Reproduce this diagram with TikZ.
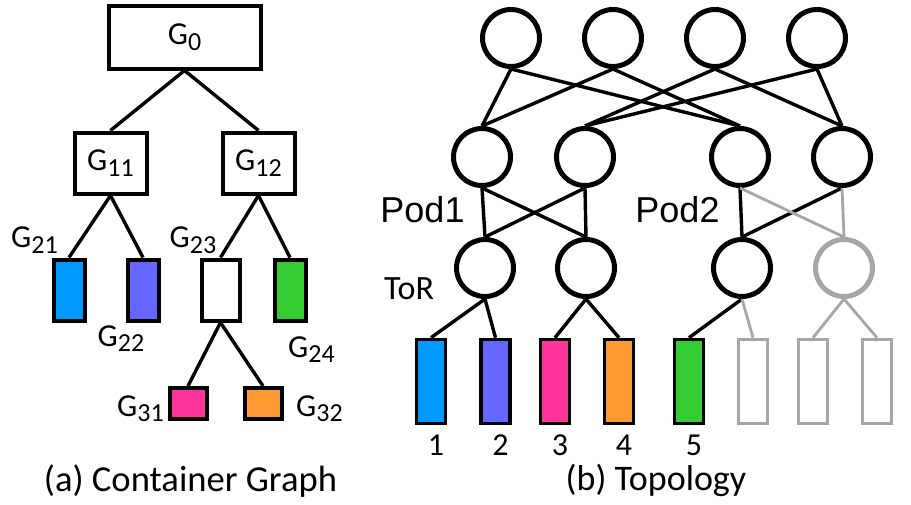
\documentclass[tikz,border=0pt]{standalone}
\usepackage{fontspec}
\setmainfont{Carlito}
\newfontfamily\podfont{Liberation Sans}
\definecolor{cblue}{HTML}{0099FF}
\definecolor{cviolet}{HTML}{6666FF}
\definecolor{cgreen}{HTML}{33CC33}
\definecolor{cpink}{HTML}{FF3399}
\definecolor{corange}{HTML}{FF9933}
\definecolor{offgray}{HTML}{A6A6A6}
\newcommand{\gname}[1]{G\raisebox{-2.8pt}{\fontsize{13}{13}\selectfont#1}}

\begin{document}
\begin{tikzpicture}[x=0.5pt,y=-0.5pt,
    box/.style={draw,line width=2pt,inner sep=0pt},
    grp/.style={box,minimum width=36pt,minimum height=30.5pt,font=\fontsize{16}{16}\selectfont},
    cont/.style={box,minimum width=15.5pt,minimum height=30.5pt},
    sw/.style={circle,draw,line width=2.5pt,minimum size=28.5pt,inner sep=0pt},
    host/.style={box,line width=1.8pt,minimum width=14.5pt,minimum height=42pt},
    num/.style={font=\fontsize{16}{16}\selectfont,inner sep=0pt,label distance=4.5pt,xshift=2.5pt},
    tag/.style={font=\fontsize{16}{16}\selectfont,inner sep=0pt},
    link/.style={line width=1.7pt},
    off/.style={draw=offgray},
    offlink/.style={line width=1.4pt,offgray}
    ]
    \useasboundingbox (0,0) rectangle (911,504);

    % (a) container graph
    \node[grp,minimum width=76pt,minimum height=31.5pt](g0) at (184.5,37){\gname{0}};
    \node[grp](g11) at (110.5,163){\gname{11}};
    \node[grp](g12) at (258.5,163){\gname{12}};
    \node[cont,fill=cblue](g21) at (69,290){};
    \node[cont,fill=cviolet](g22) at (143,290){};
    \node[cont,minimum width=19pt](g23) at (220.5,290){};
    \node[cont,fill=cgreen](g24) at (290,290){};
    \node[cont,fill=cpink,minimum width=18.5pt,minimum height=15.5pt](g31) at (188,403.5){};
    \node[cont,fill=corange,minimum width=18.5pt,minimum height=15.5pt](g32) at (263,403.5){};
    \node[tag](l21) at (34.5,240){\gname{21}};
    \node[tag](l22) at (121,338.5){\gname{22}};
    \node[tag](l23) at (193,240){\gname{23}};
    \node[tag](l24) at (311.5,349.5){\gname{24}};
    \node[tag](l31) at (140.5,408.5){\gname{31}};
    \node[tag](l32) at (319.5,408.5){\gname{32}};
    \path[link] (g0.south) edge (g11.north)
    (g0.south) edge (g12.north)
    (g11.south) edge (g21.north)
    (g11.south) edge (g22.north)
    (g12.south) edge (g23.north)
    (g12.south) edge (g24.north)
    (g23.south) edge (g31.north)
    (g23.south) edge (g32.north);
    \node[font=\fontsize{18.3}{18.3}\selectfont](capa) at (190.5,481){(a) Container Graph};

    % (b) topology
    \node[sw](c1) at (511,38){};
    \node[sw](c2) at (613,38){};
    \node[sw](c3) at (715,38){};
    \node[sw](c4) at (817,38){};
    \node[sw](a1) at (482,157){};
    \node[sw](a2) at (585,157){};
    \node[sw](a3) at (740,157){};
    \node[sw](a4) at (842,157){};
    \node[sw](t1) at (485,268){};
    \node[sw](t2) at (586,268){};
    \node[sw](t3) at (742,268){};
    \node[sw,off](t4) at (844,268){};
    \node[host,fill=cblue,label={[num]below:1}](h1) at (431,381.5){};
    \node[host,fill=cviolet,label={[num]below:2}](h2) at (495.5,381.5){};
    \node[host,fill=cpink,label={[num]below:3}](h3) at (555,381.5){};
    \node[host,fill=corange,label={[num]below:4}](h4) at (619,381.5){};
    \node[host,fill=cgreen,label={[num]below:5}](h5) at (689,381.5){};
    \node[host,off](h6) at (753,381.5){};
    \node[host,off](h7) at (813,381.5){};
    \node[host,off](h8) at (877,381.5){};
    \path[link] (c1.south) edge (a1.north)
    (c1.south) edge (a3.north)
    (c2.south) edge (a1.north)
    (c2.south) edge (a3.north)
    (c3.south) edge (a2.north)
    (c3.south) edge (a4.north)
    (c4.south) edge (a2.north)
    (c4.south) edge (a4.north)
    (a1.south) edge (t1.north)
    (a1.south) edge (t2.north)
    (a2.south) edge (t1.north)
    (a2.south) edge (t2.north)
    (a3.south) edge (t3.north)
    (a4.south) edge (t3.north)
    (t1.south) edge (h1.north)
    (t1.south) edge (h2.north)
    (t2.south) edge (h3.north)
    (t2.south) edge (h4.north)
    (t3.south) edge (h5.north);
    \path[offlink] (a3.south) edge (t4.north)
    (a4.south) edge (t4.north)
    (t3.south) edge (h6.north)
    (t4.south) edge (h7.north)
    (t4.south) edge (h8.north);
    \node[font=\podfont\fontsize{18}{18}\selectfont](pod1) at (422.5,210){Pod1};
    \node[font=\podfont\fontsize{18}{18}\selectfont](pod2) at (677.5,210){Pod2};
    \node[font=\fontsize{17}{17}\selectfont](tor) at (409,288.5){ToR};
    \node[font=\fontsize{18}{18}\selectfont](capb) at (656,480){(b) Topology};

\end{tikzpicture}
\end{document}
